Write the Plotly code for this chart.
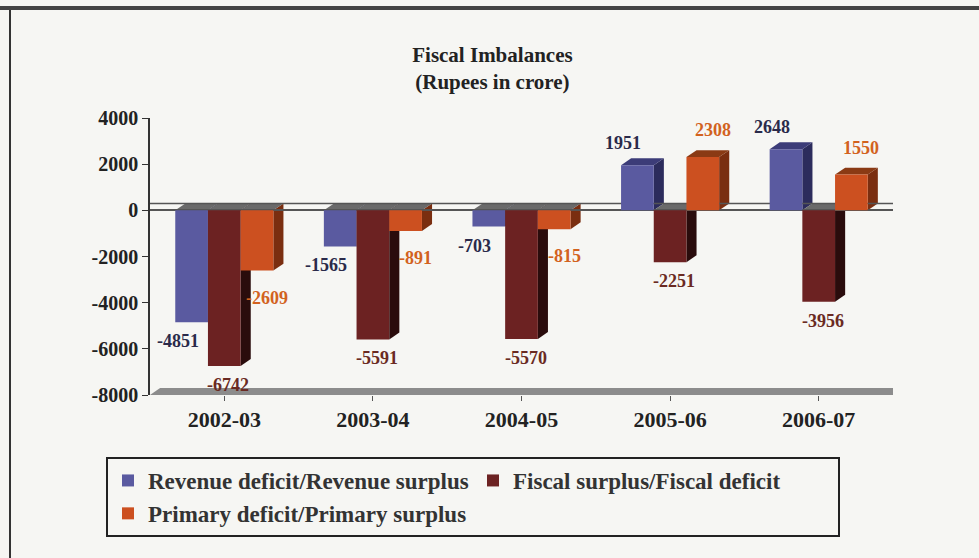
import plotly.graph_objects as go

categories = ["2002-03", "2003-04", "2004-05", "2005-06", "2006-07"]
revenue = [-4851, -1565, -703, 1951, 2648]
fiscal = [-6742, -5591, -5570, -2251, -3956]
primary = [-2609, -891, -815, 2308, 1550]
series_names = ["Revenue deficit/Revenue surplus",
                "Fiscal surplus/Fiscal deficit",
                "Primary deficit/Primary surplus"]
y_ticks = [4000, 2000, 0, -2000, -4000, -6000, -8000]
y_tick_text = ["4000", "2000", "0", "-2000", "-4000", "-6000", "-8000"]

series = [revenue, fiscal, primary]
front = ["#5a5aa0", "#6c2222", "#cc5020"]
side = ["#2c2c5c", "#2a0c0c", "#7a2e10"]
topc = ["#3c3c78", "#5a5a5a", "#8a3a14"]
label_col = ["#2a2a4a", "#6a2a22", "#d2621e"]
label_dx = [-14, 4, 10]

FONT = "Liberation Serif"
BG = "#f6f6f3"

bargap = 0.34
bw = (1 - bargap) / 3
dx = 0.068
dy = 300

fig = go.Figure()
for name, vals, c in zip(series_names, series, front):
    fig.add_trace(go.Bar(x=list(range(len(categories))), y=vals, name=name,
                         marker=dict(color=c, line=dict(width=0)), hoverinfo="skip"))

shapes = []
annotations = []
# 3D side / top faces derived from bar geometry
for j, vals in enumerate(series):
    for i, v in enumerate(vals):
        xl = i - (1 - bargap) / 2 + j * bw
        xr = xl + bw
        shapes.append(dict(type="path", layer="below", line=dict(width=0), fillcolor=side[j],
                           path=f"M {xr},0 L {xr+dx},{dy} L {xr+dx},{v+dy} L {xr},{v} Z"))
        ytop = v if v > 0 else 0
        shapes.append(dict(type="path", layer="below", line=dict(width=0),
                           fillcolor=topc[j] if v > 0 else "#6a6a6a",
                           path=f"M {xl},{ytop} L {xl+dx},{ytop+dy} L {xr+dx},{ytop+dy} L {xr},{ytop} Z"))
        annotations.append(dict(x=(xl + xr) / 2, y=v, xref="x", yref="y", text=f"{v}",
                                showarrow=False, xshift=label_dx[j],
                                yshift=(-19 if v < 0 else 22) if j < 2 else (-27 if v < 0 else 27),
                                font=dict(family=FONT, size=18, color=label_col[j], weight="bold")))

# back zero line and floor
shapes.append(dict(type="line", layer="below", xref="x", yref="y", x0=-0.5, x1=4.5 + dx,
                   y0=dy, y1=dy, line=dict(color="#555", width=1.5)))
shapes.append(dict(type="path", layer="below", line=dict(width=0), fillcolor="#8c8c8c",
                   path=f"M -0.5,-8000 L {-0.5+dx},{-8000+dy} L {4.5+dx},{-8000+dy} L 4.5,-8000 Z"))

def px2x(p):
    return (p - 150) / 743

def py2y(p):
    return (395 - p) / 277

# outer frame (left and top edges visible in the scan)
shapes.append(dict(type="line", xref="paper", yref="paper", x0=px2x(10), x1=px2x(10),
                   y0=py2y(558), y1=py2y(9), line=dict(color="#333", width=2)))
shapes.append(dict(type="line", xref="paper", yref="paper", x0=px2x(0), x1=px2x(979),
                   y0=py2y(8), y1=py2y(8), line=dict(color="#444", width=4)))

fig.update_layout(
    width=979, height=558,
    margin=dict(l=150, r=86, t=118, b=163),
    paper_bgcolor=BG, plot_bgcolor=BG,
    barmode="group", bargap=bargap, bargroupgap=0,
    title=dict(text="Fiscal Imbalances<br>(Rupees in crore)", x=0.503, xref="container",
               y=1 - 62 / 558, yref="container", yanchor="top", xanchor="center",
               font=dict(family=FONT, size=21, color="#222", weight="bold")),
    xaxis=dict(range=[-0.5, 4.5], tickmode="array", tickvals=list(range(5)), ticktext=categories,
               showgrid=False, zeroline=False, showline=False, ticks="outside", ticklen=5,
               tickson="boundaries", tickcolor="#555",
               tickfont=dict(family=FONT, size=22, color="#222", weight="bold")),
    yaxis=dict(range=[-8000, 4000], tickvals=y_ticks, ticktext=y_tick_text, showgrid=False,
               zeroline=True, zerolinecolor="#555", zerolinewidth=1.5,
               showline=True, linecolor="#333", linewidth=1.5, ticks="outside", ticklen=6,
               tickcolor="#333",
               tickfont=dict(family=FONT, size=20, color="#222", weight="bold")),
    legend=dict(orientation="h", x=px2x(106), y=py2y(457), xanchor="left", yanchor="top",
                bgcolor=BG, bordercolor="#222", borderwidth=2, entrywidth=320,
                font=dict(family=FONT, size=23, color="#333", weight="bold"),
                itemwidth=30, tracegroupgap=0),
    shapes=shapes, annotations=annotations, showlegend=True,
)

fig.write_html("out.html")
